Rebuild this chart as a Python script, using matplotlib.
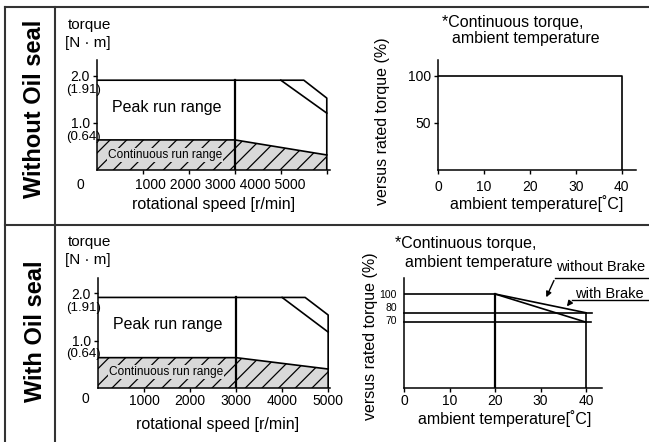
import matplotlib
matplotlib.use("Agg")
import matplotlib.pyplot as plt
import matplotlib.transforms as mtransforms

plt.rcParams["font.family"] = ["Liberation Sans", "DejaVu Sans"]

W, H = 649, 442

# --- torque-speed data, without oil seal (top row) ---
top_peak_speed = [0, 4500, 5000, 5000]
top_peak_torque = [1.91, 1.91, 1.53, 0.0]
top_inner_speed = [4000, 5000]
top_inner_torque = [1.91, 1.21]
top_cont_speed = [0, 0, 3000, 5000, 5000]
top_cont_torque = [0.0, 0.64, 0.64, 0.32, 0.0]

# --- torque-speed data, with oil seal (bottom row) ---
bot_peak_speed = [0, 4500, 5000, 5000]
bot_peak_torque = [1.91, 1.91, 1.54, 0.0]
bot_inner_speed = [4000, 5000]
bot_inner_torque = [1.91, 1.18]
bot_cont_speed = [0, 0, 3000, 5000, 5000]
bot_cont_torque = [0.0, 0.64, 0.64, 0.40, 0.0]

rated_speed = 3000
speed_ticks = [1000, 2000, 3000, 4000, 5000]

# --- continuous torque vs ambient temperature ---
top_temp = [0, 40, 40]
top_ratio = [100, 100, 0]

bot_flat_temp = [0, 20]
bot_flat_ratio = [100, 100]
no_brake_temp = [20, 40]
no_brake_ratio = [100, 80]
brake_temp = [20, 40]
brake_ratio = [100, 70]
temp_ticks = [0, 10, 20, 30, 40]


def px(x, y):
    return x / W, 1 - y / H


def add_ax(x0, y0, w, h):
    # x0, y0 = axes origin in pixels (bottom-left), w/h in pixels
    ax = fig.add_axes([x0 / W, 1 - y0 / H, w / W, h / H])
    for s in ("top", "right"):
        ax.spines[s].set_visible(False)
    for s in ("left", "bottom"):
        ax.spines[s].set_linewidth(1.1)
    ax.tick_params(direction="out", length=3, width=1.0, labelsize=10, pad=2)
    ax.patch.set_alpha(0)
    return ax


def ftext(x, y, s, **kw):
    kw.setdefault("ha", "center")
    kw.setdefault("va", "center")
    kw.setdefault("fontsize", 11)
    fig.text(*px(x, y), s, **kw)


fig = plt.figure(figsize=(W / 100, H / 100), dpi=100)

# table frame
frame_kw = dict(color="#333333", lw=1.5, transform=fig.transFigure, clip_on=False)
fig.add_artist(plt.Line2D([px(5, 0)[0], 1], [px(0, 7)[1]] * 2, **frame_kw))
fig.add_artist(plt.Line2D([px(5, 0)[0], 1], [px(0, 225)[1]] * 2, **frame_kw))
fig.add_artist(plt.Line2D([px(5, 0)[0]] * 2, [px(0, 7)[1], 0], **frame_kw))
fig.add_artist(plt.Line2D([px(55, 0)[0]] * 2, [px(0, 7)[1], 0], **frame_kw))

ftext(35, 109, "Without Oil seal", rotation=90, fontsize=17, fontweight="bold")
ftext(35, 331, "With Oil seal", rotation=90, fontsize=17, fontweight="bold")

LW = 1.2
GRAY = "#d9d9d9"
plt.rcParams["hatch.linewidth"] = 0.9


def torque_chart(ax, peak_s, peak_t, inner_s, inner_t, cont_s, cont_t, x_top, y_top):
    ax.fill(cont_s, cont_t, facecolor=GRAY, edgecolor="black", hatch="//", linewidth=0)
    ax.plot(cont_s[1:4], cont_t[1:4], color="black", lw=LW)
    ax.plot(peak_s, peak_t, color="black", lw=LW)
    ax.plot(inner_s, inner_t, color="black", lw=LW)
    ax.plot([rated_speed, rated_speed], [0, peak_t[0]], color="black", lw=1.6)
    ax.set_xlim(0, x_top)
    ax.set_ylim(0, y_top)
    ax.set_yticks([1.0, 2.0])
    ax.set_yticklabels(["1.0", "2.0"])
    ax.set_xticks(speed_ticks)


# ---------------- top-left ----------------
ax1 = add_ax(97, 170, 233, 110)
torque_chart(ax1, top_peak_speed, top_peak_torque, top_inner_speed, top_inner_torque,
             top_cont_speed, top_cont_torque, 5070, 2.34)
ax1.set_xticklabels([])
ax1.text(1480, 0.32, "Continuous run range", ha="center", va="center", fontsize=8.6,
         bbox=dict(facecolor=GRAY, edgecolor="none", pad=0.8))
ax1.text(1520, 1.34, "Peak run range", ha="center", va="center", fontsize=11.5)
ftext(101, 90, "(1.91)", ha="right", fontsize=9.5)
ftext(101, 137, "(0.64)", ha="right", fontsize=9.5)
ftext(80, 185, "0", fontsize=10)
ftext(220, 185, "1000 2000 3000 4000 5000", fontsize=10)
ftext(214, 204, "rotational speed [r/min]", fontsize=11.5)
ftext(68, 25, "torque", ha="left", fontsize=11)
ftext(65, 43, "[N · m]", ha="left", fontsize=11)

# ---------------- bottom-left ----------------
ax3 = add_ax(98, 388, 232, 110)
torque_chart(ax3, bot_peak_speed, bot_peak_torque, bot_inner_speed, bot_inner_torque,
             bot_cont_speed, bot_cont_torque, 5040, 2.32)
ax3.set_xticklabels([str(t) for t in speed_ticks])
ax3.tick_params(axis="x", pad=1)
ax3.text(1480, 0.34, "Continuous run range", ha="center", va="center", fontsize=8.6,
         bbox=dict(facecolor=GRAY, edgecolor="none", pad=0.8))
ax3.text(1520, 1.33, "Peak run range", ha="center", va="center", fontsize=11.5)
ftext(101, 308, "(1.91)", ha="right", fontsize=9.5)
ftext(101, 354, "(0.64)", ha="right", fontsize=9.5)
ftext(85, 399, "0", fontsize=10)
ftext(218, 425, "rotational speed [r/min]", fontsize=11.5)
ftext(68, 242, "torque", ha="left", fontsize=11)
ftext(65, 260, "[N · m]", ha="left", fontsize=11)

# ---------------- top-right ----------------
ax2 = add_ax(438, 170, 198, 110)
ax2.plot(top_temp, top_ratio, color="black", lw=LW)
ax2.set_xlim(0, 43.1)
ax2.set_ylim(0, 117)
ax2.set_xticks(temp_ticks)
ax2.set_yticks([50, 100])
ax2.tick_params(axis="x", pad=4)
ftext(537, 204, "ambient temperature[˚C]", fontsize=11.5)
ftext(382, 121, "versus rated torque (%)", rotation=90, fontsize=11.5)
ftext(442, 22, "*Continuous torque,", ha="left", fontsize=11.5)
ftext(452, 39, "ambient temperature", ha="left", fontsize=11.5)

# ---------------- bottom-right ----------------
ax4 = add_ax(404, 388, 198, 110)
ax4.plot(bot_flat_temp, bot_flat_ratio, color="black", lw=LW)
ax4.plot([20, 20], [0, 100], color="black", lw=1.6)
ax4.plot(no_brake_temp, no_brake_ratio, color="black", lw=LW)
ax4.plot(brake_temp, brake_ratio, color="black", lw=LW)
ax4.plot([0, 41.3], [no_brake_ratio[-1]] * 2, color="black", lw=LW, clip_on=False)
ax4.plot([0, 41.0], [brake_ratio[-1]] * 2, color="black", lw=LW, clip_on=False)
ax4.plot([40, 40], [0, no_brake_ratio[-1]], color="black", lw=LW)
ax4.set_xlim(0, 43.5)
ax4.set_ylim(0, 117)
ax4.set_xticks(temp_ticks)
ax4.set_yticks([70, 80, 100])
ax4.tick_params(axis="y", length=0, pad=5, labelsize=7.5)
ax4.tick_params(axis="x", pad=1)
lab70, lab80 = ax4.get_yticklabels()[:2]
lab80.set_transform(lab80.get_transform() +
                    mtransforms.ScaledTranslation(0, 0.06, fig.dpi_scale_trans))
lab70.set_transform(lab70.get_transform() +
                    mtransforms.ScaledTranslation(0, 0.025, fig.dpi_scale_trans))

arrow_kw = dict(arrowstyle="-|>", color="black", lw=1.0, mutation_scale=8)
ax4.plot([33.2, 54.0], [117, 117], color="black", lw=1.0, clip_on=False)
ax4.annotate("", xy=(31.0, 93.8), xytext=(33.2, 117), arrowprops=arrow_kw,
             annotation_clip=False)
ax4.plot([36.9, 54.0], [93.6, 93.6], color="black", lw=1.0, clip_on=False)
ax4.annotate("", xy=(35.4, 84.5), xytext=(36.9, 93.6), arrowprops=arrow_kw,
             annotation_clip=False)
ftext(601, 267, "without Brake", fontsize=10.5)
ftext(609, 294, "with Brake", fontsize=10.5)

ftext(505, 419, "ambient temperature[˚C]", fontsize=11.5)
ftext(370, 336, "versus rated torque (%)", rotation=90, fontsize=11.5)
ftext(395, 243, "*Continuous torque,", ha="left", fontsize=11.5)
ftext(405, 262, "ambient temperature", ha="left", fontsize=11.5)

fig.savefig("out.png", dpi=100)
